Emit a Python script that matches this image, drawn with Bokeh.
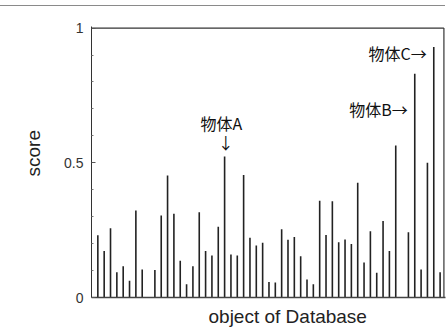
from bokeh.plotting import figure
from bokeh.models import Range1d, FixedTicker, Label, Div, Title
from bokeh.layouts import column
from bokeh.embed import file_html
from bokeh.resources import INLINE

# ---- data ----
objects = list(range(1, 56))
scores = [0.231, 0.173, 0.257, 0.094, 0.116, 0.062, 0.323, 0.104, 0.0, 0.102,
          0.304, 0.453, 0.311, 0.136, 0.049, 0.116, 0.316, 0.173, 0.156, 0.263,
          0.523, 0.160, 0.156, 0.455, 0.222, 0.193, 0.203, 0.058, 0.056, 0.253,
          0.214, 0.225, 0.153, 0.067, 0.049, 0.359, 0.232, 0.357, 0.205, 0.215,
          0.199, 0.426, 0.130, 0.246, 0.092, 0.284, 0.173, 0.564, 0.0, 0.242,
          0.831, 0.104, 0.500, 0.930, 0.094]
y_ticks = [0, 0.5, 1]
y_tick_labels = {0: "0", 0.5: "0.5", 1: "1"}
y_minor = [0.1, 0.2, 0.3, 0.4, 0.6, 0.7, 0.8, 0.9]
annot_objects = {"物体A": 21, "物体B": 51, "物体C": 54}
x_label = "object of Database"
y_label = "score"

JP = "Noto Sans CJK JP"
SANS = "Liberation Sans"

X_BOX = 55.6      # right edge of the box (data units)
Y_BOX = 1.0       # top edge of the box (data units)

topline = Div(width=445, height=6, text="",
              styles={"border-bottom": "1px solid #8a8a8a",
                      "box-sizing": "border-box", "margin": "0px",
                      "padding": "0px"})

p = figure(width=446, height=326, output_backend="svg", toolbar_location=None,
           x_range=Range1d(0, X_BOX + 0.25), y_range=Range1d(0, Y_BOX + 0.006),
           min_border_left=91, min_border_right=1, min_border_top=20,
           min_border_bottom=34)
p.outline_line_color = None
p.grid.visible = False
p.background_fill_color = "white"
p.border_fill_color = "white"

p.segment(x0=objects, y0=[0] * len(objects), x1=objects, y1=scores,
          line_color="#222222", line_width=1.6)

# frame box: top and right edges, drawn as glyphs inside the frame
p.segment(x0=[0, X_BOX], y0=[Y_BOX, 0], x1=[X_BOX, X_BOX], y1=[Y_BOX, Y_BOX],
          line_color="#333333", line_width=1.2)

# axes
p.xaxis.ticker = FixedTicker(ticks=[])
p.xaxis.major_tick_line_color = None
p.xaxis.minor_tick_line_color = None
p.xaxis.major_label_text_font_size = "0px"
p.xaxis.major_label_standoff = 0
p.xaxis.axis_line_color = "#444444"
p.xaxis.axis_line_width = 1.5

p.yaxis.ticker = FixedTicker(ticks=y_ticks, minor_ticks=y_minor)
p.yaxis.major_label_overrides = y_tick_labels
p.yaxis.major_tick_in = 4
p.yaxis.major_tick_out = 0
p.yaxis.minor_tick_in = 2
p.yaxis.minor_tick_out = 0
p.yaxis.major_tick_line_color = "#555555"
p.yaxis.minor_tick_line_color = "#777777"
p.yaxis.axis_line_color = "#333333"
p.yaxis.major_label_text_font = SANS
p.yaxis.major_label_text_font_size = "14px"
p.yaxis.major_label_text_color = "#333333"
p.yaxis.major_label_standoff = 8

# axis titles
p.add_layout(Title(text=x_label, align="left", offset=117, text_font=SANS,
                   text_font_size="19px", text_font_style="normal",
                   text_color="#222222", standoff=12), "below")
p.add_layout(Title(text=y_label, align="left", offset=121, text_font=SANS,
                   text_font_size="19px", text_font_style="normal",
                   text_color="#222222", standoff=36), "left")

# annotations
xa = annot_objects["物体A"]
p.add_layout(Label(x=xa - 0.5, y=0.646, text="物体A", text_font=JP,
                   text_font_size="16px", text_color="#111111",
                   text_align="center", text_baseline="middle"))
p.add_layout(Label(x=xa + 0.18, y=0.576, text="↓", text_font=JP,
                   text_font_size="16px", text_color="#111111",
                   text_align="center", text_baseline="middle"))
xb = annot_objects["物体B"]
p.add_layout(Label(x=xb - 1.1, y=0.70, text="物体B→", text_font=JP,
                   text_font_size="16px", text_color="#111111",
                   text_align="right", text_baseline="middle"))
xc = annot_objects["物体C"]
p.add_layout(Label(x=xc - 1.1, y=0.909, text="物体C→", text_font=JP,
                   text_font_size="16px", text_color="#111111",
                   text_align="right", text_baseline="middle"))

layout = column(topline, p, spacing=0)
open("out.html", "w").write(file_html(layout, INLINE))
